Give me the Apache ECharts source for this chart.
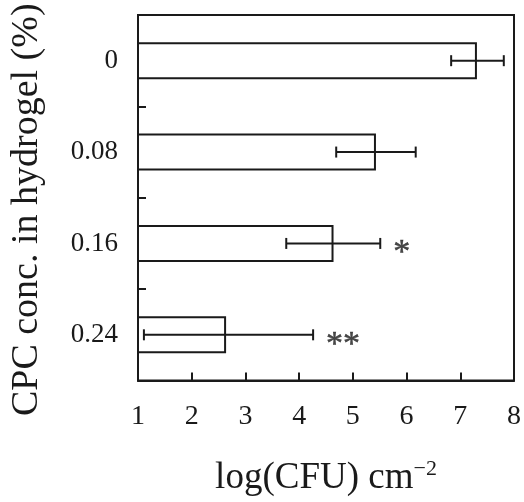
<!DOCTYPE html>
<html>
<head>
<meta charset="utf-8">
<script src="https://cdn.jsdelivr.net/npm/echarts@6/dist/echarts.min.js"></script>
<style>html,body{margin:0;padding:0;background:#fff}#c{width:524px;height:502px}</style>
</head>
<body>
<div id="c"></div>
<script>
var categories = ['0', '0.08', '0.16', '0.24'];
var means = [7.31, 5.43, 4.64, 2.64];
var errLow = [6.83, 4.69, 3.76, 1.11];
var errHigh = [7.81, 6.17, 5.51, 4.26];
var marks = ['', '', '*', '**'];
var xTicks = [1, 2, 3, 4, 5, 6, 7, 8];

var FONT = 'Liberation Serif';
var INK = '#1a1a1a';

var chart = echarts.init(document.getElementById('c'), null, {renderer: 'canvas'});

var errData = categories.map(function (c, i) { return [i, errLow[i], errHigh[i]]; });
var markData = categories.map(function (c, i) { return {value: [errHigh[i], i], mark: marks[i]}; });

chart.setOption({
  animation: false,
  backgroundColor: '#fff',
  grid: {left: 137, right: 7, top: 15, bottom: 110, show: true, borderColor: INK, borderWidth: 2, containLabel: false},
  xAxis: {
    type: 'value', min: xTicks[0], max: xTicks[xTicks.length - 1], interval: 1,
    name: '{a|log(CFU) cm}{s|−2}', nameLocation: 'middle', nameGap: 78,
    nameTextStyle: {
      rich: {
        a: {fontFamily: FONT, fontSize: 37, color: INK},
        s: {fontFamily: FONT, fontSize: 22, color: INK, padding: [0, 0, 18, 0]}
      }
    },
    axisLine: {show: true, lineStyle: {color: INK, width: 2}},
    axisTick: {show: true, inside: true, length: 8, lineStyle: {color: INK, width: 2}},
    axisLabel: {margin: 22, fontFamily: FONT, fontSize: 28, color: INK},
    splitLine: {show: false}
  },
  yAxis: {
    type: 'category', data: categories, inverse: true,
    name: 'CPC conc. in hydrogel (%)', nameLocation: 'middle', nameGap: 92, nameRotate: 90,
    nameTextStyle: {fontFamily: FONT, fontSize: 38, color: INK, padding: [0, 24, 0, 0]},
    axisLine: {show: true, lineStyle: {color: INK, width: 2}},
    axisTick: {show: true, inside: true, length: 8, alignWithLabel: false, lineStyle: {color: INK, width: 2}},
    axisLabel: {margin: 20, fontFamily: FONT, fontSize: 27, color: INK},
    splitLine: {show: false}
  },
  series: [
    {
      type: 'bar', data: means, barWidth: 37,
      itemStyle: {color: '#fff', borderColor: INK, borderWidth: 2}
    },
    {
      type: 'custom', data: errData, z: 5,
      renderItem: function (params, api) {
        var y = api.value(0);
        var p1 = api.coord([api.value(1), y]);
        var p2 = api.coord([api.value(2), y]);
        var h = 5.5;
        var st = {stroke: INK, lineWidth: 2};
        return {
          type: 'group',
          children: [
            {type: 'line', shape: {x1: p1[0], y1: p1[1], x2: p2[0], y2: p2[1]}, style: st},
            {type: 'line', shape: {x1: p1[0], y1: p1[1] - h, x2: p1[0], y2: p1[1] + h}, style: st},
            {type: 'line', shape: {x1: p2[0], y1: p2[1] - h, x2: p2[0], y2: p2[1] + h}, style: st}
          ]
        };
      },
      encode: {x: [1, 2], y: 0}
    },
    {
      type: 'scatter', data: markData, symbolSize: 0, z: 6,
      label: {
        show: true, position: 'right', distance: 13,
        formatter: function (p) { return p.data.mark; },
        fontFamily: FONT, fontSize: 34, color: INK, offset: [0, 10],
        textBorderColor: INK, textBorderWidth: 0.5
      }
    }
  ]
});
</script>
</body>
</html>
